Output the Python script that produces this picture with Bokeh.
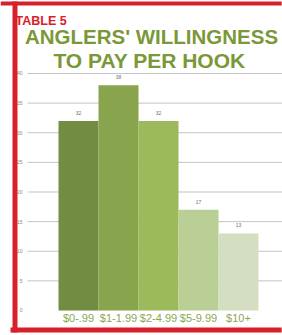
from bokeh.plotting import figure
from bokeh.models import Range1d
from bokeh.core.properties import value
from bokeh.embed import file_html
from bokeh.resources import INLINE

categories = ["$0-.99", "$1-1.99", "$2-4.99", "$5-9.99", "$10+"]
counts = [32, 38, 32, 17, 13]
bar_colors = ["#728d41", "#88a44c", "#9cba5b", "#b9cf95", "#d3dfc0"]
y_ticks = [0, 5, 10, 15, 20, 25, 30, 35, 40]
y_tick_labels = ["0", "5", "10", "15", "20", "25", "30", "35", "40"]
table_label = "TABLE 5"
title_lines = ["ANGLERS' WILLINGNESS", "TO PAY PER HOOK"]

RED = "#d7202a"
GREEN = "#7a9838"

W, H = 282, 335
x0, x1 = -1.95, 5.1
y0, y1 = -4.22, 52.32

p = figure(width=W, height=H, output_backend="svg", toolbar_location=None,
           x_range=Range1d(x0, x1), y_range=Range1d(y0, y1),
           x_axis_location=None, y_axis_location=None, min_border=0)
p.grid.visible = False
p.outline_line_color = None
p.background_fill_color = "white"
p.border_fill_color = "white"

xs = list(range(len(categories)))

# gridlines (none drawn at zero in the reference)
grid_y = y_ticks[1:]
p.segment(x0=[-1.275] * len(grid_y), x1=[x1] * len(grid_y), y0=grid_y, y1=grid_y,
          line_color="#c4c4c4", line_width=1)

# y tick labels
p.text(x=[-1.4] * len(y_ticks), y=y_ticks, text=y_tick_labels,
       text_font=value("Liberation Sans"), text_font_size="5px", text_color="#8a8a8a",
       text_align="right", text_baseline="middle")

# bars
p.vbar(x=xs, top=counts, bottom=0, width=1.0, fill_color=bar_colors, line_color=None)

# value labels
p.text(x=xs, y=[c + 1.35 for c in counts], text=[str(c) for c in counts],
       text_font=value("Liberation Sans"), text_font_size="5px", text_color="#707070",
       text_align="center", text_baseline="middle")

# category labels
p.text(x=xs, y=[-1.35] * len(xs), text=categories,
       text_font=value("Liberation Sans"), text_font_size="11px", text_color="#8ba552",
       text_align="center", text_baseline="middle")

# titles
p.text(x=[-1.575], y=[48.8], text=[table_label],
       text_font=value("Liberation Sans"), text_font_style="bold",
       text_font_size="12.5px", text_color=RED, text_align="left", text_baseline="middle")
p.text(x=[1.825], y=[46.25], text=[title_lines[0]],
       text_font=value("Liberation Sans"), text_font_style="bold",
       text_font_size="20.5px", text_color=GREEN, text_align="center", text_baseline="middle")
p.text(x=[1.775], y=[42.2], text=[title_lines[1]],
       text_font=value("Liberation Sans"), text_font_style="bold",
       text_font_size="21px", text_color=GREEN, text_align="center", text_baseline="middle")

# red frame: top and bottom bands as horizontal bars, left bar as a thick segment
p.hbar(y=[51.815], height=0.67, left=x0, right=x1 - 0.02,
       fill_color=RED, line_color=None)
p.hbar(y=[-3.29], height=0.84, left=-1.7, right=x1 - 0.02,
       fill_color=RED, line_color=None)
p.segment(x0=[-1.5875], x1=[-1.5875], y0=[52.15], y1=[-3.71],
          line_color=RED, line_width=5, line_cap="butt")

open("out.html", "w").write(file_html(p, INLINE))
